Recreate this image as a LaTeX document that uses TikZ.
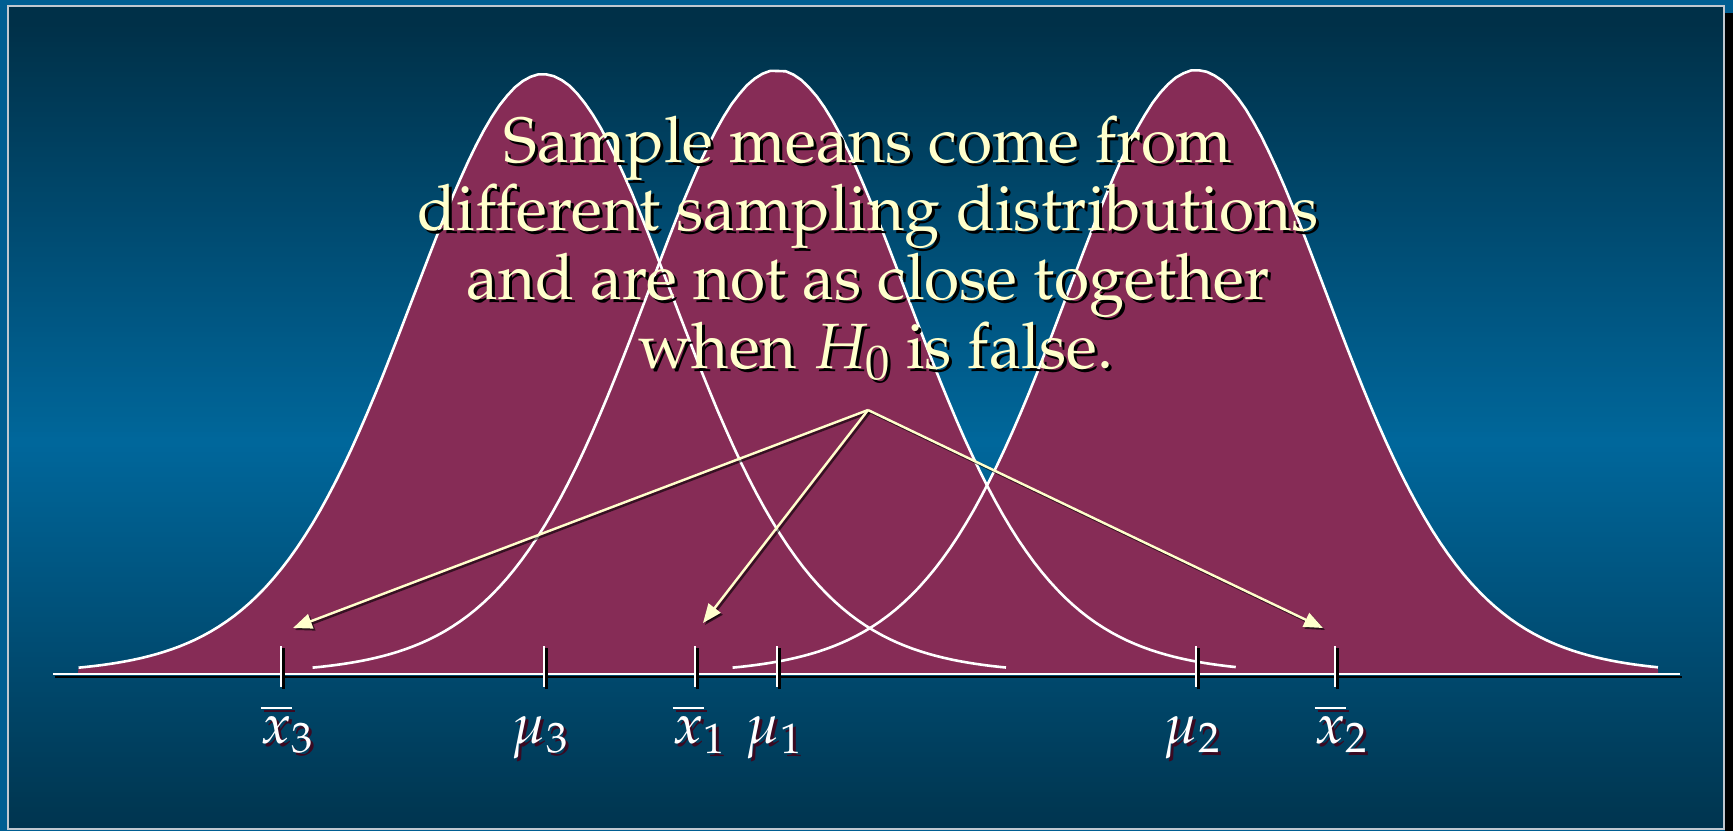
\documentclass[tikz,border=0pt]{standalone}
\usepackage[T1]{fontenc}
\usepackage{mathpazo}
\usepackage{tikz}
\usetikzlibrary{arrows.meta}
\definecolor{slideDark}{HTML}{003048}
\definecolor{slideMid}{HTML}{00679B}
\definecolor{slideEdge}{HTML}{005E92}
\definecolor{frameGray}{HTML}{C0C8D0}
\definecolor{bellFill}{HTML}{862C56}
\definecolor{cream}{HTML}{FFFFCC}
\definecolor{labelShadow}{HTML}{3A0A22}
\newcommand{\withShadow}[2]{\rlap{\kern3pt\raisebox{-3pt}[0pt][0pt]{\textcolor{#1}{#2}}}#2}
\begin{document}
\begin{tikzpicture}
[x=1pt,y=-1pt,
bell/.style={fill=bellFill},
bellEdge/.style={white,line width=2.6pt},
axisLine/.style={white,line width=2.6pt},
axisShadow/.style={black,line width=2.8pt},
meanTick/.style={white,line width=2.6pt},
meanTickShadow/.style={black,line width=2.6pt},
pointer/.style={cream,line width=2.4pt,-{Triangle[length=19pt,width=15pt]}},
pointerShadow/.style={black,opacity=0.6,line width=2.4pt,-{Triangle[length=19pt,width=15pt]}},
slideText/.style={cream,font=\fontsize{64}{68}\selectfont,anchor=base,inner sep=0pt},
axisLabel/.style={white,font=\fontsize{56}{60}\selectfont,anchor=base,inner sep=0pt}]
\useasboundingbox (0,0) rectangle (1733,831);
% slide background
\fill[slideEdge] (0,0) rectangle (1733,831);
\fill[black] (1725,13) rectangle (1733,831);
\foreach \i in {0,...,163} {
  \pgfmathsetmacro\ya{7+5*\i}
  \pgfmathsetmacro\pct{max(0,100-abs(\ya-440)/4.2)}
  \fill[slideMid!\pct!slideDark] (9,\ya) rectangle (1723,\ya+5.6);
}
\draw[frameGray,line width=2pt] (8,6) rectangle (1724,829);
% the three sampling distributions
\fill[bell] (78,674) -- plot[domain=-3.39:3.38,samples=120] ({543+137*\x},{674-599*(1+\x*\x/15)^(-8)}) -- (1006,674) -- cycle;
\fill[bell] (312,674) -- plot[domain=-3.39:3.35,samples=120] ({777+137*\x},{674-603*(1+\x*\x/15)^(-8)}) -- (1236,674) -- cycle;
\fill[bell] (732,674) -- plot[domain=-3.39:3.365,samples=120] ({1197+137*\x},{674-603*(1+\x*\x/15)^(-8)}) -- (1658,674) -- cycle;
\draw[bellEdge] plot[domain=-3.39:3.38,samples=120] ({543+137*\x},{674-599*(1+\x*\x/15)^(-8)});
\draw[bellEdge] plot[domain=-3.39:3.35,samples=120] ({777+137*\x},{674-603*(1+\x*\x/15)^(-8)});
\draw[bellEdge] plot[domain=-3.39:3.365,samples=120] ({1197+137*\x},{674-603*(1+\x*\x/15)^(-8)});
% axis
\draw[axisShadow] (55,677) -- (1682,677) ;
\draw[axisLine] (53,674) -- (1680,674) ;
% ticks
\draw[meanTickShadow] (283.5,648) -- (283.5,689) ;
\draw[meanTick] (281,646) -- (281,687) ;
\draw[meanTickShadow] (546.5,648) -- (546.5,689) ;
\draw[meanTick] (544,646) -- (544,687) ;
\draw[meanTickShadow] (697.5,648) -- (697.5,689) ;
\draw[meanTick] (695,646) -- (695,687) ;
\draw[meanTickShadow] (779.5,648) -- (779.5,689) ;
\draw[meanTick] (777,646) -- (777,687) ;
\draw[meanTickShadow] (1198.5,648) -- (1198.5,689) ;
\draw[meanTick] (1196,646) -- (1196,687) ;
\draw[meanTickShadow] (1337.5,648) -- (1337.5,689) ;
\draw[meanTick] (1335,646) -- (1335,687) ;
% axis labels
\node[axisLabel] (xb3) at (287,743) {\withShadow{labelShadow}{$\overline{x}_3$}};
\node[axisLabel] (mu3) at (540,743) {\withShadow{labelShadow}{$\mu_3$}};
\node[axisLabel] (xb1) at (699,743) {\withShadow{labelShadow}{$\overline{x}_1$}};
\node[axisLabel] (mu1) at (774,743) {\withShadow{labelShadow}{$\mu_1$}};
\node[axisLabel] (mu2) at (1192,743) {\withShadow{labelShadow}{$\mu_2$}};
\node[axisLabel] (xb2) at (1341,743) {\withShadow{labelShadow}{$\overline{x}_2$}};
% pointers to the sample means
\coordinate (src) at (868,410);
\coordinate (tipXb3) at (293,628);
\coordinate (tipXb1) at (703,623);
\coordinate (tipXb2) at (1323,628);
\draw[pointerShadow] ([shift={(2,2)}]src) -- ([shift={(2,2)}]tipXb3) ;
\draw[pointerShadow] ([shift={(2,2)}]src) -- ([shift={(2,2)}]tipXb1) ;
\draw[pointerShadow] ([shift={(2,2)}]src) -- ([shift={(2,2)}]tipXb2) ;
\draw[pointer] (src) -- (tipXb3) ;
\draw[pointer] (src) -- (tipXb1) ;
\draw[pointer] (src) -- (tipXb2) ;
% message
\node[slideText] (line1) at (868,162) {\withShadow{black}{Sample means come from}};
\node[slideText] (line2) at (868,230) {\withShadow{black}{different sampling distributions}};
\node[slideText] (line3) at (868,299) {\withShadow{black}{and are not as close together}};
\node[slideText] (line4) at (876,368) {\withShadow{black}{when $H_0$ is false.}};
\end{tikzpicture}
\end{document}
